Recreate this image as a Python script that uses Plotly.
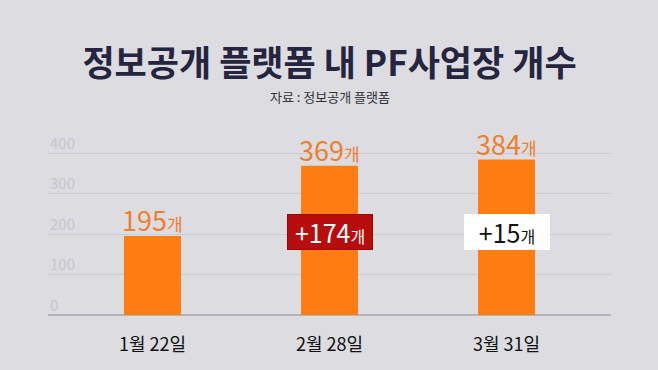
import plotly.graph_objects as go

categories = ["1월 22일", "2월 28일", "3월 31일"]
values = [195, 369, 384]
changes = [None, 174, 15]
tick_vals = [0, 100, 200, 300, 400]
tick_text = ["0", "100", "200", "300", "400"]
unit = "개"

BG = "#dcdce1"
ORANGE = "#fd7d12"
LABEL_ORANGE = "#ef7f2c"
FONT = "Noto Sans CJK KR"

fig = go.Figure()
fig.add_trace(go.Bar(
    x=categories, y=values, width=0.322,
    marker=dict(color=ORANGE, line=dict(width=0)),
    hoverinfo="skip",
))

annotations = []
# y-axis tick labels sitting above their gridlines
for tv, tt in zip(tick_vals, tick_text):
    annotations.append(dict(
        x=0, y=tv, xref="paper", yref="y", xanchor="left", yanchor="middle",
        yshift=11, text=tt, showarrow=False,
        font=dict(family=FONT, size=15, color="#c6c6cc"),
    ))

for c, v in zip(categories, values):
    annotations.append(dict(
        x=c, y=v, xref="x", yref="y", yanchor="bottom", yshift=-5,
        text=f"{v}<span style='font-size:17px'>{unit}</span>",
        showarrow=False, font=dict(family=FONT, size=27, color=LABEL_ORANGE),
    ))

box_styles = [None,
              dict(bgcolor="#b70d0d", bordercolor="#9a0808", color="#ffffff"),
              dict(bgcolor="#ffffff", bordercolor="#ffffff", color="#111111")]
for c, ch, st in zip(categories, changes, box_styles):
    if ch is None:
        continue
    annotations.append(dict(
        x=c, y=205, xref="x", yref="y", yanchor="middle",
        text=f"+{ch}<span style='font-size:16px'>{unit}</span>",
        showarrow=False, width=84, height=34, borderpad=0, borderwidth=1,
        bgcolor=st["bgcolor"], bordercolor=st["bordercolor"],
        font=dict(family=FONT, size=25, color=st["color"]),
    ))

annotations.append(dict(
    x=0.5, y=(315 - 97) / 170, xref="paper", yref="paper", yanchor="middle",
    text="자료 : 정보공개 플랫폼", showarrow=False,
    font=dict(family=FONT, size=13, color="#333333"),
))

fig.update_layout(
    width=658, height=370,
    paper_bgcolor=BG, plot_bgcolor=BG,
    margin=dict(l=48, r=47, t=145, b=55),
    showlegend=False,
    title=dict(
        text="정보공개 플랫폼 내 PF사업장 개수",
        x=0.5, xanchor="center", xref="paper",
        y=1 - 64 / 370, yanchor="middle", yref="container",
        font=dict(family=FONT, size=35, color="#25253f", weight=700),
    ),
    annotations=annotations,
    xaxis=dict(
        range=[-0.59, 2.59], showgrid=False, zeroline=False, showline=False,
        ticks="", ticklabelstandoff=17,
        tickfont=dict(family=FONT, size=18, color="#111111"),
        fixedrange=True,
    ),
    yaxis=dict(
        range=[0, 420], tickvals=tick_vals, showticklabels=False,
        showgrid=True, gridcolor="#cbcbd1", gridwidth=1,
        zeroline=True, zerolinecolor="#b3b3ba", zerolinewidth=2,
        showline=False, ticks="",
        fixedrange=True,
    ),
)

fig.write_html("out.html", config={"displayModeBar": False},
               post_script="document.body.style.margin='0';")
